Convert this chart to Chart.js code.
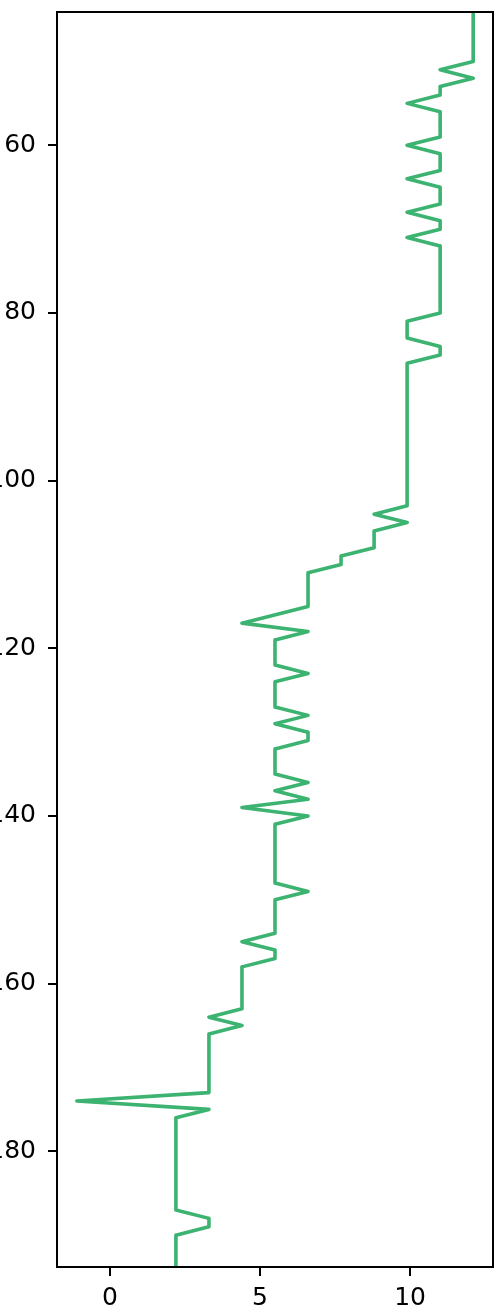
<!DOCTYPE html>
<html>
<head>
<meta charset="utf-8">
<script src="https://cdn.jsdelivr.net/npm/chart.js@4/dist/chart.umd.min.js"></script>
<style>
  html, body { margin: 0; padding: 0; background: #fff; overflow: hidden; }
  #wrap { width: 499px; height: 1315px; position: relative; }
</style>
</head>
<body>
<div id="wrap"><canvas id="logChart" width="499" height="1315"></canvas></div>
<script>
// corner points of the trace (depth goes down)
const depths = [44, 50, 51, 52, 53, 54, 55, 56, 59, 60, 61, 63, 64, 65, 67, 68, 69, 70, 71, 72,
    80, 81, 83, 84, 85, 86, 103, 104, 105, 106, 108, 109, 110, 111, 115, 117, 118, 119, 122, 123,
    124, 127, 128, 129, 130, 131, 132, 135, 136, 137, 138, 139, 140, 141, 148, 149, 150, 154, 155, 156,
    157, 158, 163, 164, 165, 166, 173, 174, 175, 176, 187, 188, 189, 190, 194];
const values = [12.1, 12.1, 11.0, 12.1, 11.0, 11.0, 9.9, 11.0, 11.0, 9.9, 11.0, 11.0, 9.9, 11.0, 11.0, 9.9, 11.0, 11.0, 9.9, 11.0,
    11.0, 9.9, 9.9, 11.0, 11.0, 9.9, 9.9, 8.8, 9.9, 8.8, 8.8, 7.7, 7.7, 6.6, 6.6, 4.4, 6.6, 5.5, 5.5, 6.6,
    5.5, 5.5, 6.6, 5.5, 6.6, 6.6, 5.5, 5.5, 6.6, 5.5, 6.6, 4.4, 6.6, 5.5, 5.5, 6.6, 5.5, 5.5, 4.4, 5.5,
    5.5, 4.4, 4.4, 3.3, 4.4, 3.3, 3.3, -1.1, 3.3, 2.2, 2.2, 3.3, 3.3, 2.2, 2.2];

const xTicks = [0, 5, 10];
const yTicks = [60, 80, 100, 120, 140, 160, 180];

const LINE_COLOR = '#3cb371';
const FONT = { family: 'DejaVu Sans', size: 25 };

// draws the black box round the plot area
const frameBox = {
    id: 'frameBox',
    afterDraw(chart) {
        const { ctx, chartArea } = chart;
        ctx.save();
        ctx.strokeStyle = '#000';
        ctx.lineWidth = 2;
        ctx.strokeRect(chartArea.left, chartArea.top, chartArea.right - chartArea.left, chartArea.bottom - chartArea.top);
        ctx.restore();
    }
};

// no extra room for edge labels, the plot box is placed by hand
function noEdgePadding(axis) {
    axis.paddingTop = 0;
    axis.paddingBottom = 0;
    axis.paddingLeft = 0;
    axis.paddingRight = 0;
}

new Chart(document.getElementById('logChart'), {
    type: 'scatter',
    data: {
        datasets: [{
            data: depths.map((d, i) => ({ x: values[i], y: d })),
            showLine: true,
            borderColor: LINE_COLOR,
            backgroundColor: LINE_COLOR,
            borderWidth: 3.6,
            borderJoinStyle: 'round',
            pointRadius: 0,
            tension: 0
        }]
    },
    options: {
        responsive: false,
        animation: false,
        layout: { padding: { top: 12, right: 6, left: 0, bottom: 0 } },
        plugins: {
            legend: { display: false },
            tooltip: { enabled: false }
        },
        scales: {
            x: {
                type: 'linear',
                min: -1.76,
                max: 12.76,
                afterBuildTicks: axis => { axis.ticks = xTicks.map(v => ({ value: v })); },
                afterFit: axis => { axis.height = 48; noEdgePadding(axis); },
                ticks: { color: '#000', font: FONT, padding: 7, maxRotation: 0 },
                grid: { drawOnChartArea: false, drawTicks: true, tickLength: 9, color: '#000', lineWidth: 2 },
                border: { display: false }
            },
            y: {
                type: 'linear',
                reverse: true,
                min: 44.1,
                max: 193.8,
                afterBuildTicks: axis => { axis.ticks = yTicks.map(v => ({ value: v })); },
                afterFit: axis => { axis.width = 57; noEdgePadding(axis); },
                ticks: { color: '#000', font: FONT, padding: 12 },
                grid: { drawOnChartArea: false, drawTicks: true, tickLength: 9, color: '#000', lineWidth: 2 },
                border: { display: false }
            }
        }
    },
    plugins: [frameBox]
});
</script>
</body>
</html>
